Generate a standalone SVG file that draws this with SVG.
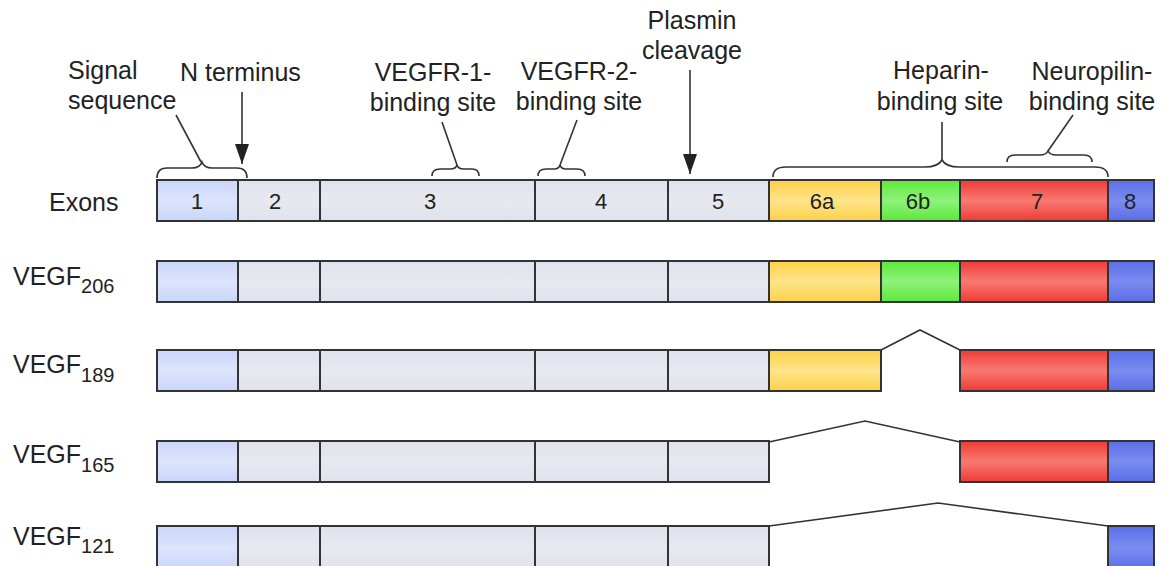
<svg xmlns="http://www.w3.org/2000/svg" width="1168" height="566" viewBox="0 0 1168 566">
<defs>
<style>
text{font-family:"Liberation Sans",Arial,sans-serif;fill:#222;}
.lbl{font-size:25px;}
.ex{font-size:22px;text-anchor:middle;}
.sub{font-size:20px;}
.box{stroke:#333;stroke-width:2;}
.ln{fill:none;stroke:#333;stroke-width:1.6;}
.br{fill:none;stroke:#333;stroke-width:1.6;}
.sig{fill:url(#gSig);}
.gr{fill:url(#gGr);}
.y{fill:url(#gY);}
.g{fill:url(#gG);}
.r{fill:url(#gR);}
.b{fill:url(#gB);}
</style>
<linearGradient id="gSig" x1="0" y1="0" x2="0" y2="1"><stop offset="0" stop-color="#c9d5fa"/><stop offset="0.5" stop-color="#dde4fc"/><stop offset="1" stop-color="#c9d5fa"/></linearGradient>
<linearGradient id="gGr" x1="0" y1="0" x2="0" y2="1"><stop offset="0" stop-color="#dfe2ee"/><stop offset="0.5" stop-color="#e8e9ef"/><stop offset="1" stop-color="#dfe2ee"/></linearGradient>
<linearGradient id="gY" x1="0" y1="0" x2="0" y2="1"><stop offset="0" stop-color="#fdd148"/><stop offset="0.5" stop-color="#fee48a"/><stop offset="1" stop-color="#fdd148"/></linearGradient>
<linearGradient id="gG" x1="0" y1="0" x2="0" y2="1"><stop offset="0" stop-color="#5de83a"/><stop offset="0.5" stop-color="#8ef27a"/><stop offset="1" stop-color="#5de83a"/></linearGradient>
<linearGradient id="gR" x1="0" y1="0" x2="0" y2="1"><stop offset="0" stop-color="#f03a36"/><stop offset="0.5" stop-color="#f77a72"/><stop offset="1" stop-color="#f03a36"/></linearGradient>
<linearGradient id="gB" x1="0" y1="0" x2="0" y2="1"><stop offset="0" stop-color="#5b6ee8"/><stop offset="0.5" stop-color="#7b8cf0"/><stop offset="1" stop-color="#5b6ee8"/></linearGradient>
<marker id="arr" viewBox="0 0 20 14" refX="20" refY="7" markerWidth="20" markerHeight="14" orient="auto" markerUnits="userSpaceOnUse">
<path d="M0,0 L20,7 L0,14 z" fill="#222"/>
</marker>
</defs>
<rect width="1168" height="566" fill="#fff"/>

<g id="labels">
<text class="lbl" x="68" y="79">Signal</text>
<text class="lbl" x="68" y="109">sequence</text>
<text class="lbl" x="180" y="81">N terminus</text>
<text class="lbl" x="433" y="81" text-anchor="middle">VEGFR-1-</text>
<text class="lbl" x="433" y="111" text-anchor="middle">binding site</text>
<text class="lbl" x="579" y="80" text-anchor="middle">VEGFR-2-</text>
<text class="lbl" x="579" y="110" text-anchor="middle">binding site</text>
<text class="lbl" x="692" y="29" text-anchor="middle">Plasmin</text>
<text class="lbl" x="692" y="59" text-anchor="middle">cleavage</text>
<text class="lbl" x="941" y="79" text-anchor="middle">Heparin-</text>
<text class="lbl" x="940" y="110" text-anchor="middle">binding site</text>
<text class="lbl" x="1092" y="80" text-anchor="middle">Neuropilin-</text>
<text class="lbl" x="1092" y="110" text-anchor="middle">binding site</text>
</g>

<g id="connectors">
<line class="ln" x1="242" y1="92" x2="242" y2="164" marker-end="url(#arr)"/>
<line class="ln" x1="690" y1="70" x2="690" y2="174" marker-end="url(#arr)"/>
<path class="br" d="M157,178 Q157,168 167,168 L192,168 Q200,168 202,162 Q204,168 212,168 L237,168 Q247,168 247,178"/>
<line class="ln" x1="176" y1="115" x2="201" y2="162"/>
<path class="br" d="M432,176 Q432,169 440,169 L450,169 Q456,169 457,165 Q458,169 464,169 L472,169 Q479,169 479,176"/>
<line class="ln" x1="442" y1="122" x2="457" y2="165"/>
<path class="br" d="M538,176 Q538,169 546,169 L554,169 Q559,169 560,165 Q561,169 566,169 L577,169 Q585,169 585,176"/>
<line class="ln" x1="577" y1="120" x2="560" y2="165"/>
<path class="br" d="M773,177 Q773,167 786,167 L925,167 Q938,167 942,160 Q946,167 959,167 L1095,167 Q1108,167 1108,177"/>
<line class="ln" x1="942" y1="122" x2="942" y2="160"/>
<path class="br" d="M1007,162 Q1007,155 1015,155 L1040,155 Q1046,155 1048,151 Q1050,155 1056,155 L1084,155 Q1092,155 1092,162"/>
<line class="ln" x1="1073" y1="115" x2="1048" y2="151"/>
<polyline class="ln" points="881,350 920,330 960,350"/>
<polyline class="ln" points="769,442 865,421 960,442"/>
<polyline class="ln" points="769,526 938,503 1108,526"/>
</g>

<g id="exons">
<text class="lbl" x="49" y="211">Exons</text>
<rect class="box sig" x="157" y="180" width="81" height="41"/>
<rect class="box gr" x="238" y="180" width="82" height="41"/>
<rect class="box gr" x="320" y="180" width="215" height="41"/>
<rect class="box gr" x="535" y="180" width="133" height="41"/>
<rect class="box gr" x="668" y="180" width="101" height="41"/>
<rect class="box y" x="769" y="180" width="112" height="41"/>
<rect class="box g" x="881" y="180" width="79" height="41"/>
<rect class="box r" x="960" y="180" width="148" height="41"/>
<rect class="box b" x="1108" y="180" width="46" height="41"/>
<text class="ex" x="197" y="209">1</text>
<text class="ex" x="275" y="209">2</text>
<text class="ex" x="430" y="209">3</text>
<text class="ex" x="601" y="209">4</text>
<text class="ex" x="718" y="209">5</text>
<text class="ex" x="822" y="209">6a</text>
<text class="ex" x="918" y="209">6b</text>
<text class="ex" x="1037" y="209">7</text>
<text class="ex" x="1130" y="209">8</text>
</g>

<g id="vegf206">
<text class="lbl" x="13" y="285">VEGF<tspan class="sub" dy="8">206</tspan></text>
<rect class="box sig" x="157" y="261" width="81" height="41"/>
<rect class="box gr" x="238" y="261" width="82" height="41"/>
<rect class="box gr" x="320" y="261" width="215" height="41"/>
<rect class="box gr" x="535" y="261" width="133" height="41"/>
<rect class="box gr" x="668" y="261" width="101" height="41"/>
<rect class="box y" x="769" y="261" width="112" height="41"/>
<rect class="box g" x="881" y="261" width="79" height="41"/>
<rect class="box r" x="960" y="261" width="148" height="41"/>
<rect class="box b" x="1108" y="261" width="46" height="41"/>
</g>

<g id="vegf189">
<text class="lbl" x="13" y="373">VEGF<tspan class="sub" dy="9">189</tspan></text>
<rect class="box sig" x="157" y="350" width="81" height="41"/>
<rect class="box gr" x="238" y="350" width="82" height="41"/>
<rect class="box gr" x="320" y="350" width="215" height="41"/>
<rect class="box gr" x="535" y="350" width="133" height="41"/>
<rect class="box gr" x="668" y="350" width="101" height="41"/>
<rect class="box y" x="769" y="350" width="112" height="41"/>
<rect class="box r" x="960" y="350" width="148" height="41"/>
<rect class="box b" x="1108" y="350" width="46" height="41"/>
</g>

<g id="vegf165">
<text class="lbl" x="13" y="463">VEGF<tspan class="sub" dy="9">165</tspan></text>
<rect class="box sig" x="157" y="441" width="81" height="41"/>
<rect class="box gr" x="238" y="441" width="82" height="41"/>
<rect class="box gr" x="320" y="441" width="215" height="41"/>
<rect class="box gr" x="535" y="441" width="133" height="41"/>
<rect class="box gr" x="668" y="441" width="101" height="41"/>
<rect class="box r" x="960" y="441" width="148" height="41"/>
<rect class="box b" x="1108" y="441" width="46" height="41"/>
</g>

<g id="vegf121">
<text class="lbl" x="13" y="545">VEGF<tspan class="sub" dy="8">121</tspan></text>
<rect class="box sig" x="157" y="526" width="81" height="44"/>
<rect class="box gr" x="238" y="526" width="82" height="44"/>
<rect class="box gr" x="320" y="526" width="215" height="44"/>
<rect class="box gr" x="535" y="526" width="133" height="44"/>
<rect class="box gr" x="668" y="526" width="101" height="44"/>
<rect class="box b" x="1108" y="526" width="46" height="44"/>
</g>
</svg>
